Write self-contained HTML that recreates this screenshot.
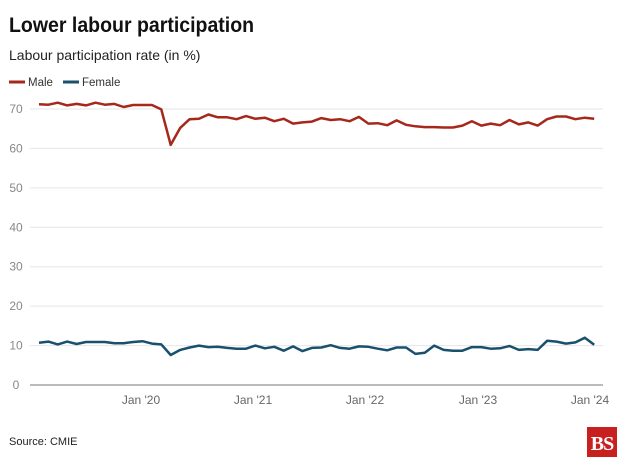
<!DOCTYPE html>
<html><head><meta charset="utf-8"><style>
body{margin:0;background:#fff;width:620px;height:468px;overflow:hidden;font-family:"Liberation Sans",sans-serif}
</style></head><body>
<svg id="s" width="620" height="468" xmlns="http://www.w3.org/2000/svg" font-family="Liberation Sans, sans-serif">
<text x="9" y="32" font-size="21" font-weight="bold" fill="#111" transform="scale(0.93,1)" transform-origin="9 32">Lower labour participation</text>
<text x="9" y="60" font-size="14" fill="#222">Labour participation rate (in %)</text>
<line x1="9" y1="82" x2="25" y2="82" stroke="#a5281b" stroke-width="3"/>
<text x="28" y="86" font-size="11.5" fill="#333">Male</text>
<line x1="63" y1="82" x2="79" y2="82" stroke="#18506e" stroke-width="3"/>
<text x="82" y="86" font-size="11.5" fill="#333">Female</text>
<g id="grid"></g>
<g font-size="12" fill="#666" text-anchor="middle">
<text x="141" y="404">Jan '20</text><text x="253" y="404">Jan '21</text><text x="365" y="404">Jan '22</text><text x="478" y="404">Jan '23</text><text x="590" y="404">Jan '24</text>
</g>
<text x="9" y="445" font-size="11" fill="#222">Source: CMIE</text>
<rect x="587" y="427" width="30" height="30" fill="#c8201e"/>
<text x="602" y="450" font-size="20" font-family="Liberation Serif, serif" font-weight="bold" fill="#fff" text-anchor="middle" letter-spacing="-1">BS</text>
<path id="m" fill="none" stroke="#a5281b" stroke-width="2.5" stroke-linejoin="round"/>
<path id="f" fill="none" stroke="#18506e" stroke-width="2.5" stroke-linejoin="round"/>
</svg>
<script>
const Y=v=>385-v*3.943, X=i=>39+i*9.41;
let g='';
for(let v=0;v<=70;v+=10){g+=`<line x1="30" x2="603" y1="${Y(v)}" y2="${Y(v)}" stroke="${v?'#e6e6e6':'#777'}" stroke-width="1"/><text x="16" y="${Y(v)+4}" font-size="12" fill="#888" text-anchor="middle">${v}</text>`;}
document.getElementById('grid').innerHTML=g;
const m=[71.2,71.1,71.6,70.9,71.3,70.9,71.6,71.1,71.3,70.5,71.0,71.0,71.0,69.9,60.9,65.2,67.4,67.5,68.6,67.9,67.9,67.4,68.2,67.5,67.8,66.9,67.5,66.3,66.6,66.8,67.7,67.2,67.4,66.9,68.0,66.3,66.4,65.9,67.1,66.0,65.6,65.4,65.4,65.3,65.3,65.8,66.9,65.8,66.3,65.9,67.2,66.1,66.6,65.8,67.4,68.1,68.1,67.4,67.8,67.5];
const f=[10.7,11.0,10.3,11.0,10.4,10.9,10.9,10.9,10.6,10.6,10.9,11.1,10.5,10.3,7.6,8.9,9.5,10.0,9.6,9.7,9.4,9.2,9.2,10.0,9.3,9.7,8.7,9.8,8.6,9.4,9.5,10.1,9.4,9.2,9.8,9.7,9.2,8.8,9.5,9.5,7.9,8.2,10.0,8.9,8.7,8.7,9.6,9.6,9.2,9.3,9.9,8.9,9.1,8.9,11.2,11.0,10.5,10.8,12.0,10.2];
const p=a=>a.map((v,i)=>(i?'L':'M')+X(i).toFixed(1)+' '+Y(v).toFixed(1)).join('');
document.getElementById('m').setAttribute('d',p(m));
document.getElementById('f').setAttribute('d',p(f));
</script>
</body></html>
